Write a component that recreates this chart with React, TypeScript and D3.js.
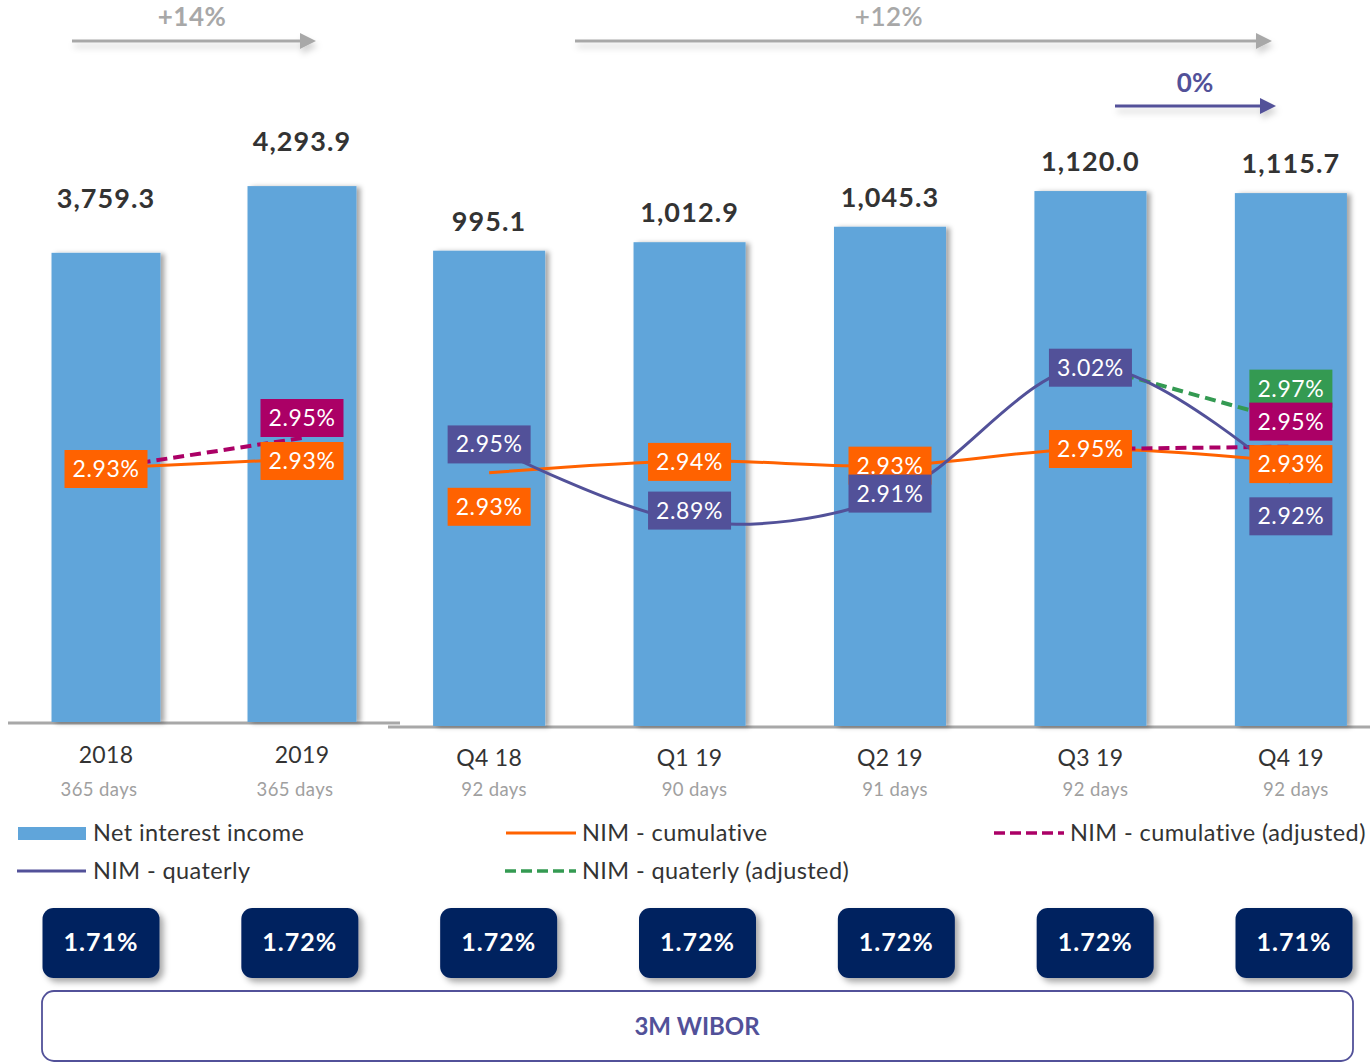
import React from 'react';
import * as d3 from 'd3';

// ---------- data ----------
const annualCats = ['2018', '2019'];
const annualDays = ['365 days', '365 days'];
const annualNII = [3759.3, 4293.9];
const annualNIMCum = [2.93, 2.936];
const annualNIMCumLabels = ['2.93%', '2.93%'];
const annualNIMCumAdj = [2.93, 2.95];
const annualNIMCumAdjLabels = ['', '2.95%'];

const quarterCats = ['Q4 18', 'Q1 19', 'Q2 19', 'Q3 19', 'Q4 19'];
const quarterDays = ['92 days', '90 days', '91 days', '92 days', '92 days'];
const quarterNII = [995.1, 1012.9, 1045.3, 1120.0, 1115.7];
const nimCum = [2.93, 2.94, 2.936, 2.95, 2.939];
const nimCumLabels = ['2.93%', '2.94%', '2.93%', '2.95%', '2.93%'];
const nimQ = [2.953, 2.889, 2.91, 3.02, 2.922];
const nimQLabels = ['2.95%', '2.89%', '2.91%', '3.02%', '2.92%'];
const nimCumAdj: (number | null)[] = [null, null, null, 2.95, 2.952];
const nimCumAdjLabels = ['', '', '', '', '2.95%'];
const nimQAdj: (number | null)[] = [null, null, null, 3.02, 2.973];
const nimQAdjLabels = ['', '', '', '', '2.97%'];

const wiborCats = ['2018', '2019', 'Q4 18', 'Q1 19', 'Q2 19', 'Q3 19', 'Q4 19'];
const wiborValues = ['1.71%', '1.72%', '1.72%', '1.72%', '1.72%', '1.72%', '1.71%'];

const growthLabels = ['+14%', '+12%', '0%'];

// ---------- layout ----------
const W = 1370;
const H = 1063;
const FONT = 'Lato, "Open Sans", sans-serif';
const C = {
  bar: '#60A5DA',
  orange: '#FF6200',
  purple: '#525199',
  magenta: '#AB0066',
  green: '#349A52',
  navy: '#00205F',
  gray: '#A8A8A8',
  text: '#333333',
  sub: '#A0A0A0',
};

const annualBase = 722;
const quarterBase = 726;

const xA = d3.scaleBand<string>().domain(annualCats).range([8, 400]).paddingInner(0.444).paddingOuter(0.222);
const xQ = d3.scaleBand<string>().domain(quarterCats).range([389, 1391]).paddingInner(0.441).paddingOuter(0.22);
const yA = d3.scaleLinear().domain([0, 5785]).range([annualBase, 0]);
const yQ = d3.scaleLinear().domain([0, 1520]).range([quarterBase, 0]);
const nA = d3.scaleLinear().domain([2.9, 3.0]).range([513, 363]);
const nQ = d3.scaleLinear().domain([2.9, 3.0]).range([508.5, 389.5]);
const xW = d3.scalePoint<string>().domain(wiborCats).range([101, 1294]);

const annualLabelOffset = [45, 35];
const quarterLabelOffset = 20;

// label box offsets (dy from point)
const annualCumDy = [1, 2];
const annualAdjDy = [0, -20];
const qCumDy = [34, 1, 0, 0, 2];
const qDy = [-1, -11, -3, 2, 34];
const qCumAdjDy = [0, 0, 0, 0, -25];
const qAdjDy = [0, 0, 0, 0, -33];

const BOX_W = 83;
const BOX_H = 38;

function LabelBox({ x, y, text, fill }: { x: number; y: number; text: string; fill: string }) {
  return (
    <g>
      <rect x={x - BOX_W / 2} y={y - BOX_H / 2} width={BOX_W} height={BOX_H} fill={fill} />
      <text x={x} y={y + 8} textAnchor="middle" fill="#fff" fontSize={23} letterSpacing={0.6} fontFamily={FONT}>
        {text}
      </text>
    </g>
  );
}

function Arrow({ x0, x1, y, color }: { x0: number; x1: number; y: number; color: string }) {
  return (
    <g filter="url(#arrowShadow)">
      <line x1={x0} x2={x1 - 14} y1={y} y2={y} stroke={color} strokeWidth={3} />
      <path d={`M${x1 - 16},${y - 8} L${x1},${y} L${x1 - 16},${y + 8} Z`} fill={color} />
    </g>
  );
}

export default function App() {
  const bwA = xA.bandwidth();
  const bwQ = xQ.bandwidth();
  const cxA = (c: string) => (xA(c) as number) + bwA / 2;
  const cxQ = (c: string) => (xQ(c) as number) + bwQ / 2;

  const smooth = d3.line<[number, number]>().x((d) => d[0]).y((d) => d[1]).curve(d3.curveCatmullRom.alpha(0.5));
  const straight = d3.line<[number, number]>().x((d) => d[0]).y((d) => d[1]);

  const annualCumPts: [number, number][] = annualCats.map((c, i) => [cxA(c), nA(annualNIMCum[i])]);
  const annualAdjPts: [number, number][] = annualCats.map((c, i) => [cxA(c), nA(annualNIMCumAdj[i])]);
  const qCumPts: [number, number][] = quarterCats.map((c, i) => [cxQ(c), nQ(nimCum[i])]);
  const qPts: [number, number][] = quarterCats.map((c, i) => [cxQ(c), nQ(nimQ[i])]);
  const qCumAdjPts: [number, number][] = [];
  quarterCats.forEach((c, i) => {
    const v = nimCumAdj[i];
    if (v != null) qCumAdjPts.push([cxQ(c), nQ(v)]);
  });
  const qAdjPts: [number, number][] = [];
  quarterCats.forEach((c, i) => {
    const v = nimQAdj[i];
    if (v != null) qAdjPts.push([cxQ(c), nQ(v)]);
  });

  return (
    <div style={{ position: 'absolute', left: 0, top: 0 }}>
      <svg width={W} height={H} style={{ display: 'block', background: '#fff' }}>
        <defs>
          <filter id="barShadow" x="-20%" y="-5%" width="150%" height="115%">
            <feDropShadow dx={4} dy={1} stdDeviation={2.5} floodColor="#000" floodOpacity={0.35} />
          </filter>
          <filter id="arrowShadow" x="-5%" y="-100%" width="110%" height="400%">
            <feDropShadow dx={2} dy={5} stdDeviation={3} floodColor="#000" floodOpacity={0.18} />
          </filter>
          <filter id="boxShadow" x="-20%" y="-20%" width="150%" height="150%">
            <feDropShadow dx={4} dy={4} stdDeviation={3} floodColor="#000" floodOpacity={0.35} />
          </filter>
        </defs>

        {/* growth arrows */}
        <Arrow x0={72} x1={316} y={41} color={C.gray} />
        <text x={192} y={26} textAnchor="middle" fill={C.gray} fontSize={26} fontWeight={700} letterSpacing={0.5} fontFamily={FONT}>
          {growthLabels[0]}
        </text>
        <Arrow x0={575} x1={1272} y={41} color={C.gray} />
        <text x={889} y={26} textAnchor="middle" fill={C.gray} fontSize={26} fontWeight={600} letterSpacing={0.5} fontFamily={FONT}>
          {growthLabels[1]}
        </text>
        <Arrow x0={1115} x1={1276} y={106} color={C.purple} />
        <text x={1195} y={92} textAnchor="middle" fill={C.purple} fontSize={26} fontWeight={700} fontFamily={FONT}>
          {growthLabels[2]}
        </text>

        {/* axis lines */}
        <line x1={8} x2={400} y1={annualBase + 1} y2={annualBase + 1} stroke={C.gray} strokeWidth={3} />
        <line x1={388} x2={1370} y1={quarterBase + 1} y2={quarterBase + 1} stroke={C.gray} strokeWidth={3} />

        {/* bars */}
        {annualCats.map((c, i) => (
          <rect key={c} x={xA(c)} y={yA(annualNII[i])} width={bwA} height={annualBase - yA(annualNII[i])} fill={C.bar} filter="url(#barShadow)" />
        ))}
        {quarterCats.map((c, i) => (
          <rect key={c} x={xQ(c)} y={yQ(quarterNII[i])} width={bwQ} height={quarterBase - yQ(quarterNII[i])} fill={C.bar} filter="url(#barShadow)" />
        ))}

        {/* value labels */}
        {annualCats.map((c, i) => (
          <text key={c} x={cxA(c)} y={yA(annualNII[i]) - annualLabelOffset[i]} textAnchor="middle" fill={C.text} fontSize={27} fontWeight={700} letterSpacing={1.1} fontFamily={FONT}>
            {d3.format(',.1f')(annualNII[i])}
          </text>
        ))}
        {quarterCats.map((c, i) => (
          <text key={c} x={cxQ(c)} y={yQ(quarterNII[i]) - quarterLabelOffset} textAnchor="middle" fill={C.text} fontSize={27} fontWeight={700} letterSpacing={1.1} fontFamily={FONT}>
            {d3.format(',.1f')(quarterNII[i])}
          </text>
        ))}

        {/* category labels */}
        {annualCats.map((c, i) => (
          <g key={c}>
            <text x={cxA(c)} y={763} textAnchor="middle" fill={C.text} fontSize={23} letterSpacing={0.3} fontFamily={FONT}>{c}</text>
            <text x={cxA(c) - 7} y={796} textAnchor="middle" fill={C.sub} fontSize={18.5} letterSpacing={0.4} fontFamily={FONT}>{annualDays[i]}</text>
          </g>
        ))}
        {quarterCats.map((c, i) => (
          <g key={c}>
            <text x={cxQ(c)} y={766} textAnchor="middle" fill={C.text} fontSize={23} letterSpacing={0.3} fontFamily={FONT}>{c}</text>
            <text x={cxQ(c) + 5} y={796} textAnchor="middle" fill={C.sub} fontSize={18.5} letterSpacing={0.4} fontFamily={FONT}>{quarterDays[i]}</text>
          </g>
        ))}

        {/* lines annual */}
        <path d={straight(annualAdjPts) || ''} fill="none" stroke={C.magenta} strokeWidth={4} strokeDasharray="11,6" />
        <path d={straight(annualCumPts) || ''} fill="none" stroke={C.orange} strokeWidth={3} />

        {/* lines quarterly */}
        <path d={smooth(qCumPts) || ''} fill="none" stroke={C.orange} strokeWidth={3} />
        <path d={straight(qCumAdjPts) || ''} fill="none" stroke={C.magenta} strokeWidth={4} strokeDasharray="11,6" />
        <path d={straight(qAdjPts) || ''} fill="none" stroke={C.green} strokeWidth={4} strokeDasharray="11,6" />
        <path d={smooth(qPts) || ''} fill="none" stroke={C.purple} strokeWidth={3} />

        {/* label boxes annual */}
        {annualCats.map((c, i) => (
          <LabelBox key={'ac' + c} x={cxA(c)} y={nA(annualNIMCum[i]) + annualCumDy[i]} text={annualNIMCumLabels[i]} fill={C.orange} />
        ))}
        {annualCats.map((c, i) =>
          annualNIMCumAdjLabels[i] ? (
            <LabelBox key={'aa' + c} x={cxA(c)} y={nA(annualNIMCumAdj[i]) + annualAdjDy[i]} text={annualNIMCumAdjLabels[i]} fill={C.magenta} />
          ) : null
        )}

        {/* label boxes quarterly */}
        {quarterCats.map((c, i) => (
          <LabelBox key={'qc' + c} x={cxQ(c)} y={nQ(nimCum[i]) + qCumDy[i]} text={nimCumLabels[i]} fill={C.orange} />
        ))}
        {quarterCats.map((c, i) => (
          <LabelBox key={'qq' + c} x={cxQ(c)} y={nQ(nimQ[i]) + qDy[i]} text={nimQLabels[i]} fill={C.purple} />
        ))}
        {quarterCats.map((c, i) => {
          const v = nimQAdj[i];
          return v != null && nimQAdjLabels[i] ? (
            <LabelBox key={'qa' + c} x={cxQ(c)} y={nQ(v) + qAdjDy[i]} text={nimQAdjLabels[i]} fill={C.green} />
          ) : null;
        })}
        {quarterCats.map((c, i) => {
          const v = nimCumAdj[i];
          return v != null && nimCumAdjLabels[i] ? (
            <LabelBox key={'qca' + c} x={cxQ(c)} y={nQ(v) + qCumAdjDy[i]} text={nimCumAdjLabels[i]} fill={C.magenta} />
          ) : null;
        })}

        {/* legend */}
        <g fontFamily={FONT} fontSize={23.5} letterSpacing={0.4} fill={C.text}>
          <rect x={18} y={827} width={68} height={13} fill={C.bar} />
          <text x={93} y={841}>Net interest income</text>
          <line x1={506} x2={576} y1={833} y2={833} stroke={C.orange} strokeWidth={3} />
          <text x={582} y={841}>NIM - cumulative</text>
          <line x1={994} x2={1064} y1={833} y2={833} stroke={C.magenta} strokeWidth={3.5} strokeDasharray="11,5" />
          <text x={1070} y={841}>NIM - cumulative (adjusted)</text>
          <line x1={17} x2={86} y1={871} y2={871} stroke={C.purple} strokeWidth={3} />
          <text x={93} y={879}>NIM - quaterly</text>
          <line x1={505} x2={576} y1={871} y2={871} stroke={C.green} strokeWidth={3.5} strokeDasharray="11,5" />
          <text x={582} y={879}>NIM - quaterly (adjusted)</text>
        </g>

        {/* WIBOR boxes */}
        {wiborCats.map((c, i) => (
          <g key={'w' + i}>
            <rect x={xW(c)! - 58.5} y={908} width={117} height={70} rx={11} fill={C.navy} filter="url(#boxShadow)" />
            <text x={xW(c)!} y={951} textAnchor="middle" fill="#fff" fontSize={25} fontWeight={700} letterSpacing={1} fontFamily={FONT}>
              {wiborValues[i]}
            </text>
          </g>
        ))}
        <rect x={42} y={991} width={1311} height={70} rx={12} fill="#fff" stroke={C.purple} strokeWidth={1.8} />
        <text x={697} y={1035} textAnchor="middle" fill={C.purple} fontSize={24} fontWeight={700} fontFamily={FONT}>
          3M WIBOR
        </text>
      </svg>
    </div>
  );
}
